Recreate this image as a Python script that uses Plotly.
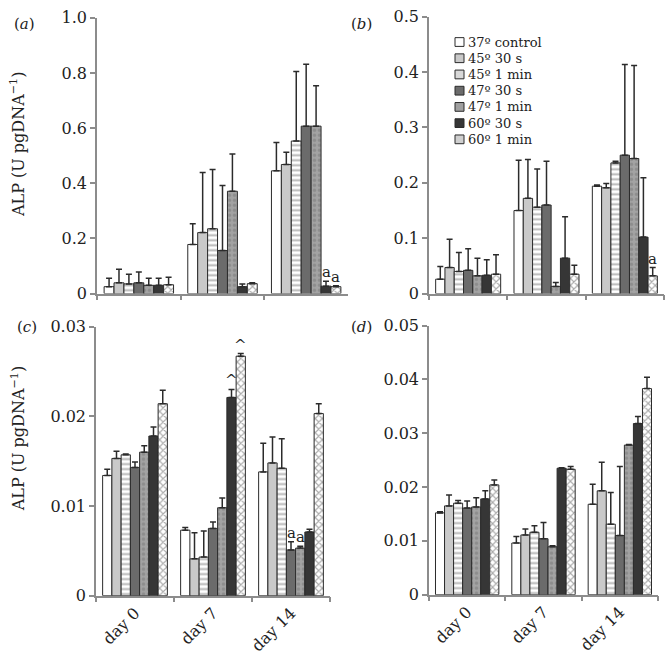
#!/usr/bin/env python3
# -*- coding: utf-8 -*-

"""
ALP activity per DNA after heat shock, four panels (a)-(d),
grouped bars for seven heat treatments at day 0 / 7 / 14.
"""

import plotly.graph_objects as go
from plotly.subplots import make_subplots


DAYS = ["day 0", "day 7", "day 14"]

SERIES_NAMES = ["37º control", "45º 30 s", "45º 1 min", "47º 30 s",
                "47º 1 min", "60º 30 s", "60º 1 min"]

# means per series, one value per day
A_MEAN = [[0.025, 0.178, 0.445], [0.039, 0.221, 0.468], [0.035, 0.235, 0.553],
          [0.039, 0.156, 0.607], [0.030, 0.371, 0.607], [0.030, 0.025, 0.027],
          [0.032, 0.036, 0.025]]
A_ERR = [[0.031, 0.075, 0.103], [0.049, 0.218, 0.044], [0.035, 0.215, 0.252],
         [0.039, 0.236, 0.224], [0.026, 0.135, 0.146], [0.026, 0.010, 0.018],
         [0.027, 0.003, 0.003]]

B_MEAN = [[0.026, 0.150, 0.194], [0.047, 0.172, 0.191], [0.040, 0.156, 0.236],
          [0.042, 0.160, 0.250], [0.032, 0.013, 0.244], [0.033, 0.064, 0.102],
          [0.035, 0.035, 0.032]]
B_ERR = [[0.023, 0.091, 0.002], [0.051, 0.070, 0.008], [0.034, 0.069, 0.003],
         [0.039, 0.079, 0.164], [0.032, 0.007, 0.168], [0.028, 0.075, 0.107],
         [0.035, 0.016, 0.015]]

C_MEAN = [[0.0134, 0.0073, 0.0138], [0.0153, 0.0041, 0.0148], [0.0157, 0.0043, 0.0142],
          [0.0143, 0.0075, 0.0051], [0.0160, 0.0098, 0.0053], [0.0178, 0.0221, 0.0071],
          [0.0214, 0.0267, 0.0203]]
C_ERR = [[0.0007, 0.0003, 0.0032], [0.0008, 0.0029, 0.0029], [0.0001, 0.0029, 0.0033],
         [0.0006, 0.0007, 0.0009], [0.0007, 0.0011, 0.0002], [0.0010, 0.0009, 0.0003],
         [0.0015, 0.0003, 0.0011]]

D_MEAN = [[0.0152, 0.0096, 0.0168], [0.0165, 0.0111, 0.0193], [0.0170, 0.0116, 0.0131],
          [0.0161, 0.0104, 0.0110], [0.0163, 0.0089, 0.0278], [0.0178, 0.0235, 0.0318],
          [0.0204, 0.0233, 0.0383]]
D_ERR = [[0.0002, 0.0012, 0.0037], [0.0020, 0.0011, 0.0053], [0.0005, 0.0012, 0.0059],
         [0.0013, 0.0030, 0.0128], [0.0017, 0.0002, 0.0001], [0.0015, 0.0001, 0.0013],
         [0.0009, 0.0005, 0.0021]]

A_TICKS = [0, 0.2, 0.4, 0.6, 0.8, 1.0]
A_TICKTEXT = ["0", "0.2", "0.4", "0.6", "0.8", "1.0"]
B_TICKS = [0, 0.1, 0.2, 0.3, 0.4, 0.5]
B_TICKTEXT = ["0", "0.1", "0.2", "0.3", "0.4", "0.5"]
C_TICKS = [0, 0.01, 0.02, 0.03]
C_TICKTEXT = ["0", "0.01", "0.02", "0.03"]
D_TICKS = [0, 0.01, 0.02, 0.03, 0.04, 0.05]
D_TICKTEXT = ["0", "0.01", "0.02", "0.03", "0.04", "0.05"]

# (panel, day index, series index, text)
MARKS = [(0, 2, 5, "a"), (0, 2, 6, "a"), (1, 2, 6, "a"),
         (2, 2, 3, "a"), (2, 2, 4, "a"), (2, 1, 5, "^"), (2, 1, 6, "^")]

FONT = "DejaVu Serif"
TXT = "#222222"
AXIS_GREY = "#8c8c8c"
EDGE = "#2b2b2b"
BARGAP = 0.17
W, H = 669, 661

# fill, pattern shape, pattern colour, legend swatch colour
STYLES = [
    ("white", "", None, "white"),
    ("#c9c9c9", "", None, "#c9c9c9"),
    ("white", "-", "#6f6f6f", "#d8d8d8"),
    ("#6b6b6b", "", None, "#6b6b6b"),
    ("#a3a3a3", ".", "#777777", "#a0a0a0"),
    ("#363636", "", None, "#363636"),
    ("white", "x", "#555555", "#cfcfcf"),
]

PANELS = [
    (A_MEAN, A_ERR, A_TICKS, A_TICKTEXT, 1.0),
    (B_MEAN, B_ERR, B_TICKS, B_TICKTEXT, 0.5),
    (C_MEAN, C_ERR, C_TICKS, C_TICKTEXT, 0.03),
    (D_MEAN, D_ERR, D_TICKS, D_TICKTEXT, 0.05),
]

# plot areas in pixels (left, right, top, bottom)
AREAS = [
    (97, 348, 9, 293),
    (429, 664, 8, 293),
    (96, 330, 327, 604),
    (429, 658, 326, 603),
]


def px_x(x):
    return x / W


def px_y(y):
    return 1 - y / H


def build_figure() -> go.Figure:
    fig = make_subplots(rows=2, cols=2)
    for p, (means, errs, tvals, ttext, ymax) in enumerate(PANELS):
        row, col = p // 2 + 1, p % 2 + 1
        for k, name in enumerate(SERIES_NAMES):
            fill, shape, fg, _ = STYLES[k]
            pattern = dict(shape=shape)
            if shape:
                pattern.update(fgcolor=fg, bgcolor=fill, size=5, solidity=0.4)
            fig.add_trace(
                go.Bar(
                    name=name,
                    x=DAYS,
                    y=means[k],
                    marker=dict(color=fill, line=dict(color=EDGE, width=1),
                                pattern=pattern),
                    error_y=dict(type="data", array=errs[k], arrayminus=[0, 0, 0],
                                 symmetric=False, color=EDGE, thickness=1.5, width=3),
                    showlegend=False,
                ),
                row=row, col=col,
            )
        left, right, top, bottom = AREAS[p]
        fig.update_xaxes(
            domain=[px_x(left), px_x(right)], row=row, col=col,
            showline=True, linecolor=AXIS_GREY, linewidth=1.5,
            ticks="outside", tickcolor=AXIS_GREY, ticklen=5, tickwidth=1.5,
            tickson="boundaries", showgrid=False,
            showticklabels=(row == 2), tickangle=-45,
            tickfont=dict(family=FONT, size=16, color=TXT),
        )
        fig.update_yaxes(
            domain=[px_y(bottom), px_y(top)], row=row, col=col, range=[0, ymax],
            showline=True, linecolor=AXIS_GREY, linewidth=1.5,
            ticks="outside", tickcolor=AXIS_GREY, ticklen=5, tickwidth=1.5,
            tickvals=tvals, ticktext=ttext, showgrid=False, zeroline=False,
            tickfont=dict(family=FONT, size=16, color=TXT),
        )

    axis_ids = ["", "2", "3", "4"]
    step = (1 - BARGAP) / len(SERIES_NAMES)
    for p, day, k, text in MARKS:
        means, errs = PANELS[p][0], PANELS[p][1]
        xpos = day - (1 - BARGAP) / 2 + (k + 0.5) * step
        fig.add_annotation(
            x=xpos, y=means[k][day] + errs[k][day],
            xref="x" + axis_ids[p], yref="y" + axis_ids[p],
            text=text, showarrow=False, yanchor="bottom", yshift=-2,
            font=dict(family=FONT, size=15, color=TXT),
        )

    # panel letters
    for label, xp, yp in [("a", 24, 15), ("b", 361, 15), ("c", 27, 327), ("d", 361, 327)]:
        fig.add_annotation(
            x=px_x(xp), y=px_y(yp), xref="paper", yref="paper",
            xanchor="center", yanchor="middle",
            text=f"(<i>{label}</i>)", showarrow=False,
            font=dict(family=FONT, size=15, color=TXT),
        )
    # y titles
    for yp in [140, 443]:
        fig.add_annotation(
            x=px_x(18), y=px_y(yp), xref="paper", yref="paper",
            xanchor="center", yanchor="middle",
            text="ALP (U pgDNA<sup>−1</sup>)", textangle=-90, showarrow=False,
            font=dict(family=FONT, size=16, color=TXT),
        )

    # legend drawn by hand (tight line spacing)
    for k, name in enumerate(SERIES_NAMES):
        yc = 34 + k * 16.7
        fig.add_shape(
            type="rect", xref="paper", yref="paper",
            x0=px_x(455), x1=px_x(464), y0=px_y(yc + 4.5), y1=px_y(yc - 4.5),
            fillcolor=STYLES[k][3], line=dict(color=EDGE, width=1),
        )
        fig.add_annotation(
            x=px_x(467), y=px_y(yc), xref="paper", yref="paper",
            xanchor="left", yanchor="middle", text=name, showarrow=False,
            borderpad=0,
            font=dict(family=FONT, size=13, color=TXT),
        )

    fig.update_layout(
        width=W, height=H,
        barmode="group", bargap=BARGAP, bargroupgap=0,
        paper_bgcolor="white", plot_bgcolor="white",
        margin=dict(l=0, r=0, t=0, b=0),
        font=dict(family=FONT, size=16, color=TXT),
        showlegend=False,
    )
    return fig


def main() -> None:
    fig = build_figure()
    fig.write_html("out.html", config={"displayModeBar": False},
                   post_script="document.body.style.margin='0px';")


if __name__ == "__main__":
    main()
